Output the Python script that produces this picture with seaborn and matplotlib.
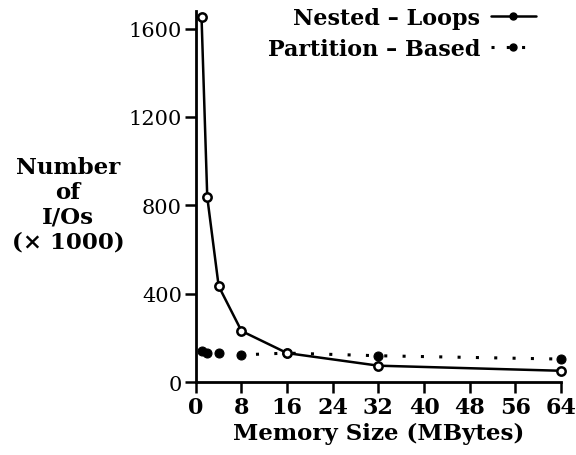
import matplotlib
matplotlib.use("Agg")
import matplotlib.pyplot as plt
from matplotlib.lines import Line2D
import seaborn as sns
import pandas as pd

memory_mb = [1, 2, 4, 8, 16, 32, 64]
nested_loops = [1650, 837, 434, 231, 131, 74, 51]
partition_based = [142, 131, 131, 123, 131, 119, 104]
x_ticks = [0, 8, 16, 24, 32, 40, 48, 56, 64]
y_ticks = [0, 400, 800, 1200, 1600]
series_names = ["Nested \u2013 Loops", "Partition \u2013 Based"]

sns.set_theme(style="white")
plt.rcParams['font.family'] = ['DejaVu Serif']
plt.rcParams['text.color'] = 'black'
plt.rcParams['xtick.color'] = 'black'
plt.rcParams['ytick.color'] = 'black'
plt.rcParams['axes.labelcolor'] = 'black'

fig = plt.figure(figsize=(5.76, 4.56), dpi=100)
ax = fig.add_axes([0.34, 0.16, 0.634, 0.814])

df_n = pd.DataFrame({"x": memory_mb, "y": nested_loops})
df_p = pd.DataFrame({"x": memory_mb, "y": partition_based})

sns.lineplot(data=df_n, x="x", y="y", ax=ax, color="black", lw=1.8,
             marker="o", markersize=6, markerfacecolor="white",
             markeredgecolor="black", markeredgewidth=1.8, clip_on=False, zorder=3)
sns.lineplot(data=df_p, x="x", y="y", ax=ax, color="black", lw=2.2,
             linestyle=(0, (1, 5)), marker="o", markersize=6.5,
             markerfacecolor="black", markeredgecolor="black", clip_on=False, zorder=2)

ax.set_xlim(0, 64)
ax.set_ylim(0, 1680)
ax.set_xticks(x_ticks)
ax.set_yticks(y_ticks)
ax.set_xticklabels([str(v) for v in x_ticks], fontsize=16, fontweight="bold")
ax.set_yticklabels([str(v) for v in y_ticks], fontsize=15)
ax.tick_params(axis="both", direction="out", length=8, width=1.8, color="black",
               bottom=True, left=True, pad=2)
for s in ["top", "right"]:
    ax.spines[s].set_visible(False)
for s in ["left", "bottom"]:
    ax.spines[s].set_color("black")
    ax.spines[s].set_linewidth(2)

ax.set_xlabel("Memory Size (MBytes)", fontsize=16.5, fontweight="bold", labelpad=3)
ax.set_ylabel("")
fig.text(0.118, 0.55, "Number\nof\nI/Os\n(\u00d7 1000)", ha="center", va="center",
         fontsize=16.5, fontweight="bold", linespacing=1.15)

handles = [
    Line2D([0], [0], color="black", lw=1.8, marker="o", markersize=5),
    Line2D([0], [0], color="black", lw=2.2, linestyle=(0, (1, 4)), marker="o", markersize=5),
]
leg = ax.legend(handles, series_names, loc="upper right", bbox_to_anchor=(0.955, 1.035),
                frameon=False, markerfirst=False,
                prop={"weight": "bold", "size": 16}, handlelength=2.0,
                handletextpad=0.5, labelspacing=0.4, borderaxespad=0.0)
for t in leg.get_texts():
    t.set_ha("right")

fig.savefig("out.png", dpi=100, facecolor="white")
